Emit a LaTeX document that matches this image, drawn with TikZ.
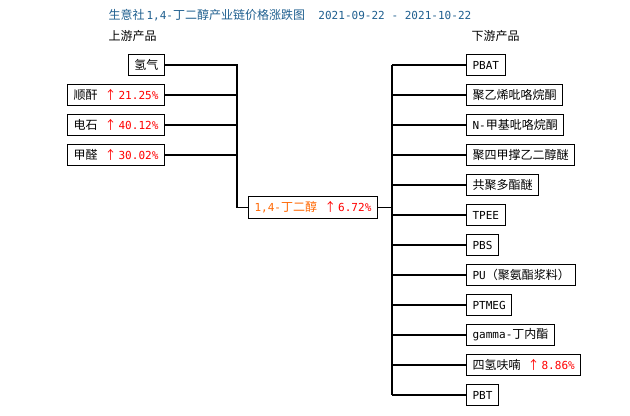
\documentclass[tikz,border=0pt]{standalone}
\usepackage{fontspec}
\setmainfont{Noto Sans CJK SC}
\newfontfamily\halfw{DejaVu Sans Mono}[Scale=0.92]
\usetikzlibrary{positioning,calc}
\definecolor{titleblue}{HTML}{1F5F8F}
\definecolor{midorange}{HTML}{FF6600}
\newcommand{\chg}[1]{\hspace{0.6em}{\color{red}↑{\halfw\,#1\%}}}

\begin{document}
\begin{tikzpicture}[x=0.75pt, y=-0.75pt, font=\fontsize{9}{9}\selectfont]
\tikzset{prod/.style={draw, line width=0.8pt, minimum height=16pt, inner xsep=4.5pt, inner ysep=0pt}}
\tikzset{link/.style={line width=0.8pt}}
\useasboundingbox (0,0) rectangle (630,415);
% headings
\node[anchor=west, text=titleblue] (title) at (104,15) {生意社{\halfw\,1,4-}丁二醇产业链价格涨跌图{\halfw\ \ 2021-09-22 - 2021-10-22}};
\node[anchor=west] (uplab) at (104,36) {上游产品};
\node[anchor=west] (dnlab) at (467,36) {下游产品};
% upstream
\node[prod, anchor=east] (h2) at (165,65) {氢气};
\node[prod, anchor=east] (ma) at (165,95) {顺酐\chg{21.25}};
\node[prod, anchor=east] (cc) at (165,125) {电石\chg{40.12}};
\node[prod, anchor=east] (hcho) at (165,155) {甲醛\chg{30.02}};
% the product
\node[prod, anchor=west, text=midorange] (bdo) at (248,207.5) {{\halfw 1,4-}丁二醇\chg{6.72}};
\coordinate (lj) at (237,65);
\coordinate (rj) at (392,65);
% downstream
\foreach \txt [count=\i] in {{\halfw PBAT}, 聚乙烯吡咯烷酮, {\halfw N-}甲基吡咯烷酮, 聚四甲撑乙二醇醚, 共聚多酯醚, {\halfw TPEE}, {\halfw PBS}, {\halfw PU}（聚氨酯浆料）, {\halfw PTMEG}, {\halfw gamma-}丁内酯, 四氢呋喃\chg{8.86}, {\halfw PBT}}
  \node[prod, anchor=west] (d\i) at (466,35+30*\i) {\txt};
% connectors
\draw[link] (h2.east) -- (h2.east -| lj) |- (bdo.west);
\foreach \n in {ma,cc,hcho} \draw[link] (\n.east) -- (\n.east -| lj);
\draw[link] (bdo.east) -- (bdo.east -| rj);
\draw[link] (rj |- d1.west) -- (rj |- d12.west);
\foreach \i in {1,...,12} \draw[link] (d\i.west) -- (d\i.west -| rj);
\end{tikzpicture}
\end{document}
